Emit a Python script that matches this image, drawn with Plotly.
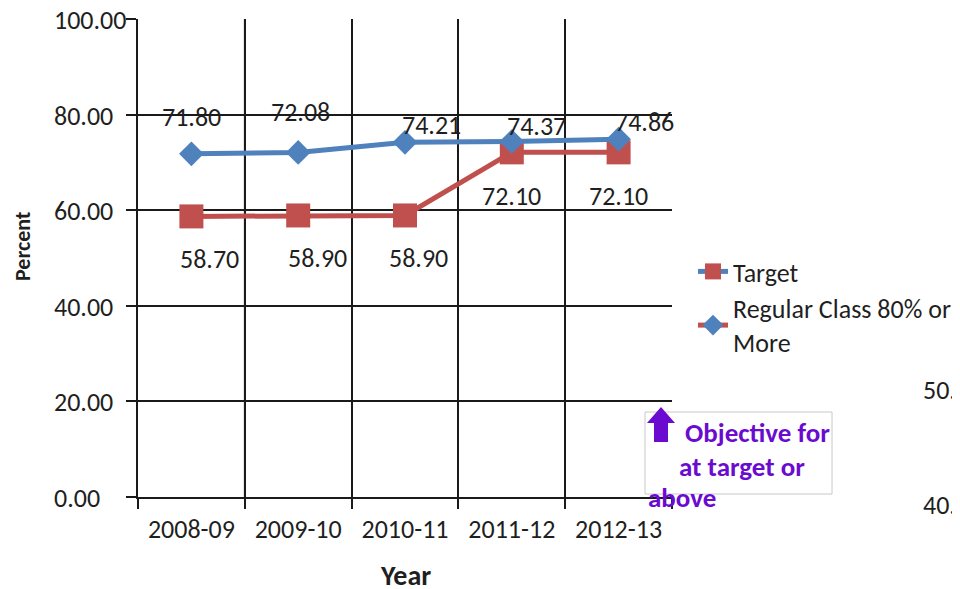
import plotly.graph_objects as go

years = ["2008-09", "2009-10", "2010-11", "2011-12", "2012-13"]
target = [58.70, 58.90, 58.90, 72.10, 72.10]
regular = [71.80, 72.08, 74.21, 74.37, 74.86]
y_ticks = [0, 20, 40, 60, 80, 100]
stray_labels = ["50.00", "40.00"]

BLUE = "#4F81BD"
RED = "#C0504D"
PURPLE = "#6C0BD0"
FONT = "Carlito, Open Sans, sans-serif"
TXT = "#1f1f1f"
FS = 26

# page has an 8px body margin; figure sized to fit the 960x589 window
OFF = 8
W, H = 960 - OFF, 589 - OFF
# plot area in page pixels
L, R, T, B = 138, 672, 19, 497


def px(x):
    return (x - L) / (R - L)


def py(y):
    return (B - y) / (B - T)


fig = go.Figure()

fig.add_trace(go.Scatter(
    x=years, y=target, mode="lines+markers", showlegend=False,
    line=dict(color=RED, width=5),
    marker=dict(symbol="square", size=24, color=RED),
))
fig.add_trace(go.Scatter(
    x=years, y=regular, mode="lines+markers", showlegend=False,
    line=dict(color=BLUE, width=5),
    marker=dict(symbol="diamond", size=19, color=BLUE),
))

# legend entries (styles swapped as in the original)
fig.add_trace(go.Scatter(
    x=[None], y=[None], mode="lines+markers", name="Target",
    line=dict(color=BLUE, width=5),
    marker=dict(symbol="square", size=16, color=RED),
))
fig.add_trace(go.Scatter(
    x=[None], y=[None], mode="lines+markers", name="Regular Class 80% or<br>More",
    line=dict(color=RED, width=5),
    marker=dict(symbol="diamond", size=16, color=BLUE),
))

annotations = []
blue_off = [(0, 37), (2, 40), (26, 17), (25, 16), (26, 17)]
red_off = [(18, -43), (19, -43), (13, -43), (0, -44), (0, -44)]
for i, (yr, v) in enumerate(zip(years, regular)):
    annotations.append(dict(x=yr, y=v, xref="x", yref="y", text=f"{v:.2f}",
                            xanchor="center", yanchor="middle",
                            showarrow=False, xshift=blue_off[i][0], yshift=blue_off[i][1],
                            font=dict(family=FONT, size=FS, color=TXT)))
for i, (yr, v) in enumerate(zip(years, target)):
    annotations.append(dict(x=yr, y=v, xref="x", yref="y", text=f"{v:.2f}",
                            xanchor="center", yanchor="middle",
                            showarrow=False, xshift=red_off[i][0], yshift=red_off[i][1],
                            font=dict(family=FONT, size=FS, color=TXT)))

# y tick labels (left aligned, as in the original)
for v in y_ticks:
    annotations.append(dict(x=px(52), y=v, xref="paper", yref="y", text=f"{v:.2f}",
                            xanchor="left", yanchor="middle", showarrow=False, yshift=-1,
                            font=dict(family=FONT, size=FS, color=TXT)))

# axis titles
annotations.append(dict(x=px(22), y=py(246), xref="paper", yref="paper", text="<b>Percent</b>",
                        textangle=-90, showarrow=False, xanchor="center", yanchor="middle",
                        font=dict(family=FONT, size=22, color=TXT)))
annotations.append(dict(x=px(405), y=py(575), xref="paper", yref="paper", text="<b>Year</b>",
                        showarrow=False, xanchor="center", yanchor="middle",
                        font=dict(family=FONT, size=28, color=TXT)))

# objective text box
for txt, x0, yc in [("Objective for", 683, 432), ("at target or", 677, 466), ("above", 646, 497)]:
    annotations.append(dict(x=px(x0), y=py(yc), xref="paper", yref="paper", text=f"<b>{txt}</b>",
                            xanchor="left", yanchor="middle", showarrow=False,
                            font=dict(family=FONT, size=27, color=PURPLE)))

# stray cut-off labels at the right edge
for txt, yc in zip(stray_labels, [390, 505]):
    annotations.append(dict(x=px(921), y=py(yc), xref="paper", yref="paper", text=txt,
                            xanchor="left", yanchor="middle", showarrow=False,
                            font=dict(family=FONT, size=FS, color=TXT)))

shapes = [
    # lighter gridline between the first two categories, as in the original
    dict(type="line", xref="x", yref="paper", x0=0.5, x1=0.5, y0=0, y1=1,
         line=dict(color="#808080", width=2), layer="between"),
    dict(type="rect", xref="paper", yref="paper", x0=px(645), x1=px(832), y0=py(494), y1=py(412),
         line=dict(color="#C8C8C8", width=1), fillcolor="rgba(0,0,0,0)", layer="above"),
]
arrow = [(661, 407), (647, 423), (654, 423), (654, 442), (668, 442), (668, 423), (675, 423)]
path = "M " + " L ".join(f"{px(a):.5f},{py(b):.5f}" for a, b in arrow) + " Z"
shapes.append(dict(type="path", xref="paper", yref="paper", path=path,
                   fillcolor=PURPLE, line=dict(color=PURPLE, width=0)))

fig.update_layout(
    width=W, height=H,
    margin=dict(l=L - OFF, r=W - (R - OFF), t=T - OFF, b=H - (B - OFF), pad=0, autoexpand=False),
    paper_bgcolor="white", plot_bgcolor="white",
    font=dict(family=FONT, size=FS, color=TXT),
    annotations=annotations, shapes=shapes,
    legend=dict(x=px(693), y=py(248), xanchor="left", yanchor="top",
                font=dict(family=FONT, size=FS, color=TXT),
                bgcolor="rgba(0,0,0,0)", tracegroupgap=0, itemwidth=30),
)
fig.update_xaxes(
    type="category", range=[-0.5, len(years) - 0.5], autorange=False,
    tickson="boundaries", showgrid=True, gridcolor="#1a1a1a", gridwidth=1.5,
    showline=True, linecolor="#1a1a1a", linewidth=1.5,
    ticks="outside", ticklen=10, tickcolor="#1a1a1a", tickwidth=1.5,
    tickfont=dict(family=FONT, size=FS, color=TXT), zeroline=False, automargin=False,
    ticklabelstandoff=8,
)
fig.update_yaxes(
    range=[0, 100], autorange=False, tickvals=y_ticks, showticklabels=False,
    showgrid=True, gridcolor="#1a1a1a", gridwidth=1.5,
    showline=True, linecolor="#1a1a1a", linewidth=1.5,
    ticks="outside", ticklen=10, tickcolor="#1a1a1a", tickwidth=1.5,
    zeroline=False, automargin=False,
)

fig.write_html("out.html")
